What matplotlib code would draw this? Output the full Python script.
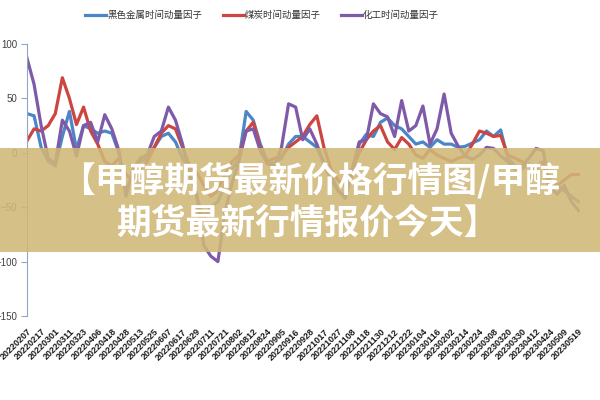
import matplotlib
matplotlib.use("Agg")
import matplotlib.pyplot as plt
import numpy as np
from matplotlib.patches import Rectangle

plt.rcParams['font.family'] = ['Noto Sans CJK SC', 'DejaVu Sans']

# trading-day labels shown on the category axis (one every 8 days)
dates = ["20220207", "20220217", "20220301", "20220311", "20220323", "20220406",
         "20220418", "20220428", "20220513", "20220525", "20220607", "20220617",
         "20220629", "20220711", "20220721", "20220802", "20220812", "20220824",
         "20220905", "20220916", "20220928", "20221017", "20221027", "20221108",
         "20221118", "20221130", "20221212", "20221222", "20230104", "20230116",
         "20230202", "20230214", "20230224", "20230308", "20230320", "20230330",
         "20230412", "20230424", "20230509", "20230519"]
label_step = 8
sample_step = 4   # one value read every 4 trading days

series_names = ["黑色金属时间动量因子", "煤炭时间动量因子", "化工时间动量因子"]

black_metal = [36, 34, 5, -8, -12, 15, 38, 3, 25, 22, 18, 20, 18, 0, -35, -20,
               -8, -5, 5, 15, 18, 10, -5, -15, -40, -60, -50, -45, -30, -15,
               -5, 38, 30, 8, -8, -10, -5, 8, 15, 15, 10, 5, -10, -25, -35,
               -42, -20, 8, 17, 15, 28, 32, 25, 22, 15, 8, 10, 5, 12, 8, 8, 5,
               6, 9, 12, 20, 15, 21, -5, -12, -15, -10, -12, -8, -25, -30, -35,
               -40, -45]
coal = [11, 22, 20, 25, 36, 69, 50, 26, 42, 20, 8, -8, -12, -5, -20, -25, -15,
        -8, 5, 18, 25, 22, 5, -12, -18, -30, -40, -35, -20, -8, -2, 20, 28, 5,
        -8, -5, -3, 5, 10, 15, 26, 34, 5, -15, -25, -30, -15, 0, 12, 20, 25,
        10, 3, 14, 8, -2, -5, 3, -2, -5, -8, -5, -3, 8, 20, 18, 15, 16, -2, -5,
        -8, -12, -15, -10, -35, -30, -25, -20, -20]
chemical = [87, 63, 25, -5, -10, 30, 20, -3, 25, 28, 10, 35, 22, 2, -40, -15,
            -5, -2, 15, 20, 42, 30, 8, -20, -38, -85, -95, -100, -55, -28, -7,
            20, 22, 2, -10, -12, 5, 45, 42, 12, 22, 8, -10, -20, -35, -40, -15,
            10, 12, 45, 36, 33, 15, 48, 20, 25, 43, 8, 22, 54, 18, 6, -3, -6,
            -2, 5, 4, -3, -8, -15, -12, -5, 4, 2, -32, -38, -30, -45, -53]

colors = ["#4a86c8", "#cc4540", "#7f5aa8"]

fig = plt.figure(figsize=(6, 4), dpi=100)
ax = fig.add_axes([0.045, 0.21, 0.922, 0.68])

x = np.arange(len(chemical)) * sample_step
for vals, name, c in zip([black_metal, coal, chemical], series_names, colors):
    ax.plot(x, vals, color=c, lw=2.3, label=name, solid_joinstyle='round')

ax.set_ylim(-150, 100)
ax.set_yticks([-150, -100, -50, 0, 50, 100])
ax.set_xlim(0, (len(dates) - 1) * label_step + 1)
ax.set_xticks(np.arange(len(dates)) * label_step)
ax.set_xticklabels(dates, rotation=45, ha='right', rotation_mode='anchor',
                   fontsize=6.5, family=['Liberation Sans', 'DejaVu Sans'],
                   color='#1a1a1a', weight='bold')
for lab in ax.get_yticklabels():
    lab.set_family(['Liberation Sans', 'DejaVu Sans'])
ax.tick_params(axis='y', labelsize=7, colors='#8fa6c4', labelcolor='#404040',
               length=4, pad=3)
ax.tick_params(axis='x', length=0, pad=8)

for s in ['top', 'right', 'bottom']:
    ax.spines[s].set_visible(False)
ax.spines['left'].set_color('#8fa6c4')

fig.legend(loc='upper center', bbox_to_anchor=(0.437, 0.995), ncol=3, frameon=False,
           fontsize=6.8, handlelength=2.2, handletextpad=0.1, columnspacing=2.2,
           labelcolor='#333333')

# banner across the middle
fig.patches.append(Rectangle((0, 0.37), 1, 0.26, transform=fig.transFigure,
                             facecolor='#d0b878', alpha=0.88, zorder=5))
fig.text(0.517, 0.55, "【甲醇期货最新价格行情图/甲醇", ha='center', va='center',
         fontsize=25, color='white', weight='bold', zorder=6)
fig.text(0.513, 0.441, "期货最新行情报价今天】", ha='center', va='center',
         fontsize=25, color='white', weight='bold', zorder=6)

fig.savefig("out.png", dpi=100)
